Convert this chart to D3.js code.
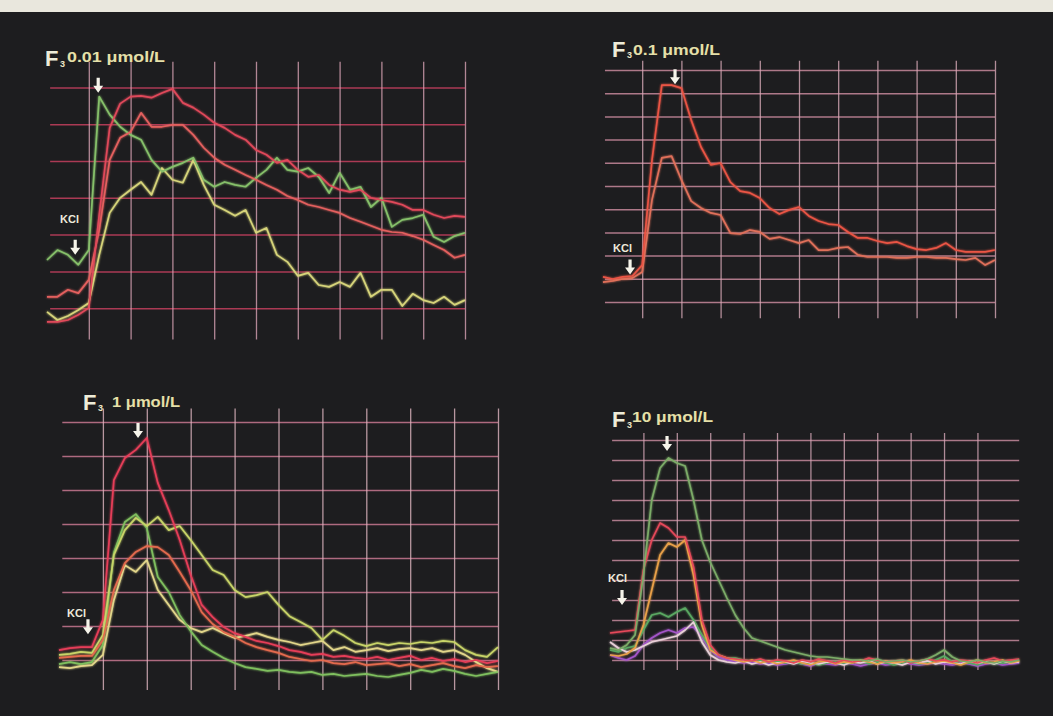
<!DOCTYPE html>
<html>
<head>
<meta charset="utf-8">
<script src="https://cdn.jsdelivr.net/npm/d3@7"></script>
<style>
  body { margin: 0; background: #1d1d1f; }
  svg { display: block; }
</style>
</head>
<body>
<svg id="chart" width="1053" height="716"></svg>
<script>
// Ca2+ fluorescence traces, 4 panels (F3 0.01 / 0.1 / 1 / 10 umol/L)
// x = sample index, y = relative fluorescence (10 units per grid division)

// panel 1 : F3 0.01 umol/L
var p1Green  = [23.1,25.8,24.5,21.8,25.8,67.5,62.6,59.3,57.1,55.8,50.3,47.1,48.4,49.5,50.9,44.9,43.0,44.3,43.5,43.0,45.4,47.6,50.9,47.6,47.1,48.1,45.7,41.3,46.8,42.2,43.0,37.5,40.0,32.1,34.0,34.5,35.4,29.4,28.0,29.6,30.5];
var p1Yellow = [9.0,6.8,7.9,9.5,11.4,24.5,35.9,40.0,42.2,44.3,40.8,48.1,44.9,44.1,50.3,43.5,38.1,36.7,35.1,36.7,30.5,31.8,24.5,22.6,18.8,19.6,16.3,15.8,17.1,15.8,19.6,13.1,15.0,15.0,10.6,13.9,12.2,11.4,13.1,10.9,12.2];
var p1RedA   = [6.3,6.3,6.8,8.2,10.1,35.4,59.0,65.6,67.5,67.7,67.2,68.5,69.6,65.8,64.5,62.6,60.4,59.0,57.1,55.8,53.0,51.7,49.5,50.3,47.6,45.7,46.2,43.5,42.2,41.6,42.2,40.0,39.4,38.9,38.1,36.7,36.7,35.4,34.5,35.1,34.8];
var p1RedB   = [13.1,13.1,15.0,14.1,17.7,31.3,50.3,56.3,57.9,63.1,59.3,59.3,59.8,59.8,57.1,53.6,50.9,49.0,47.6,46.2,44.9,43.5,42.2,40.5,39.4,38.1,37.5,36.7,35.9,34.5,33.5,32.4,31.3,30.7,30.5,29.6,28.6,27.2,25.8,23.7,24.5];

// panel 2 : F3 0.1 umol/L
var p2High = [20.8,19.9,20.8,21.2,25.9,71.2,103.5,103.5,102.2,88.4,76.8,69.1,69.9,61.7,57.8,57.0,54.8,50.5,47.9,49.7,50.9,47.1,44.9,43.6,43.2,40.2,37.6,37.6,36.3,35.4,35.9,34.1,32.8,32.4,33.3,35.4,32.4,31.6,31.6,31.6,32.4];
var p2Low  = [18.6,19.1,19.9,20.3,22.9,54.0,72.1,72.9,62.6,53.5,50.5,48.4,47.5,39.7,39.3,41.0,40.2,37.2,38.0,36.7,35.4,36.7,32.4,32.4,33.3,33.7,30.3,29.4,29.4,29.4,29.0,29.0,29.4,29.4,29.0,29.0,28.5,28.1,29.0,25.9,28.1];

// panel 3 : F3 1 umol/L
var p3RedTall = [12.9,13.5,13.8,13.8,21.8,62.9,69.4,71.8,75.3,62.1,54.1,45.3,35.0,26.2,22.6,19.7,17.9,16.8,15.6,15.0,14.1,12.9,12.4,11.5,11.8,10.9,11.2,10.6,10.3,10.9,10.0,10.6,11.2,10.0,10.6,9.7,10.3,9.4,10.0,9.1,9.7];
var p3RedLow  = [10.6,10.9,11.2,11.2,15.9,30.6,38.5,41.8,43.5,43.2,40.9,35.9,30.6,24.1,20.6,18.2,16.8,15.0,13.8,12.9,12.1,10.9,10.3,9.7,10.0,9.1,8.8,9.4,8.5,8.8,9.1,8.2,8.8,7.9,8.5,9.1,8.2,7.6,8.5,7.9,8.2];
var p3Green   = [8.8,9.4,8.8,9.4,14.4,41.5,50.6,52.9,48.8,34.4,30.0,23.2,18.5,14.4,12.4,10.6,9.1,7.9,7.4,6.8,7.1,6.5,6.2,6.5,5.6,5.9,5.3,5.6,5.9,5.3,5.0,5.6,6.2,7.1,6.5,7.4,6.8,5.9,5.3,5.9,6.5];
var p3Yellow  = [11.5,11.8,12.4,12.1,17.4,40.9,48.2,51.8,49.4,52.1,48.2,49.4,45.3,40.9,36.5,35.0,30.6,28.5,29.1,30.0,26.2,22.9,21.2,19.4,15.9,18.8,17.1,15.0,14.1,15.0,14.4,15.0,14.7,15.3,15.0,15.6,15.3,12.9,11.5,10.9,13.8];
var p3Pale    = [7.9,7.6,8.2,8.5,11.5,27.6,37.9,35.9,39.4,30.6,26.2,21.8,19.4,18.2,19.4,17.9,16.5,17.1,17.9,16.8,15.9,15.3,14.4,15.0,15.6,12.9,13.8,12.4,12.9,13.5,12.6,13.2,13.5,12.9,13.5,12.4,12.9,11.5,9.4,7.6,6.5];

// panel 4 : F3 10 umol/L
var p4GreenTall = [16,15,17.5,22.5,52.5,90,106,111,108.5,107,90,70,59,50,41,32.5,26,21,19.5,18,16.5,15,14,13,12,11.5,11.5,11,10.5,10,10,9.5,10.5,9,9.5,10,9,9.5,10.5,12.5,15,11.5,9.5,9,10,9,8.5,9.5,9,10];
var p4Red       = [23.5,24,24.5,25,55,70,78.5,76,71.5,71.5,56.5,30,17.5,12.5,11,10.5,10,9.5,10.5,9,10,9.5,8.5,10,9,10.5,9.5,8.5,10,9,9.5,11,10,9,9.5,10,8.5,9.5,10.5,9.5,10,9,10,9.5,8.5,10,11,9.5,10,10.5];
var p4Orange    = [12.5,12,13,16,27.5,45,62.5,68.5,66.5,70,52.5,27.5,15,12.5,11,10,9,10,8.5,9.5,8,9,10,8.5,7.5,9,9.5,8,9,8.5,10,9,8,9.5,8.5,9,10,8.5,8,9,9.5,8.5,7.5,9,10,8.5,9,10,8.5,9.5];
var p4GreenLow  = [15,14,16,17,25,32.5,33.5,31.5,34,36,30,22.5,16,12.5,11,11,10,9.5,10,9,9.5,8.5,9,8,8.5,7.5,8.5,9,8,8.5,9.5,8,9,8.5,7.5,8.5,9,8,8.5,10,12,9,8,8.5,7.5,9,8,8.5,9,9.5];
var p4Violet    = [12.5,11,10,12,17.5,21,23.5,25,23.5,26,26.5,21.5,15,11.5,10,9,8.5,9,8,8.5,7.5,8,9,8,7,8.5,8,7.5,8.5,8,7,8,8.5,7.5,8,9,8,7.5,8,8.5,8,7.5,8.5,8,7,8,8.5,7.5,8,8.5];
var p4Pale      = [19,16,14,15,17,19,20,21,22,25,29,19,12.5,10,9,8.5,9.5,8,9,7.5,8.5,9,8,9.5,8.5,8,9,8.5,7.5,9,8.5,9.5,8,9,8.5,7.5,9,8.5,9.5,8,9,8.5,8,9.5,8.5,9,8,9.5,8.5,9];

// concentration labels and marker positions (sample, value)
var doses = ["0.01 \u03bcmol/L", "0.1 \u03bcmol/L", "1 \u03bcmol/L", "10 \u03bcmol/L"];
var kclMarks  = [[2.7, 24], [2.76, 21], [2.64, 17], [1.44, 36.5]];
var peakMarks = [[4.9, 68], [7.35, 103], [7.2, 74.7], [6.83, 113.5]];

var svg = d3.select("#chart");

var defs = svg.append("defs");
var glow = defs.append("filter").attr("id", "glow")
    .attr("x", "-5%").attr("y", "-5%").attr("width", "110%").attr("height", "110%");
glow.append("feGaussianBlur").attr("stdDeviation", 1).attr("result", "b");
var merge = glow.append("feMerge");
merge.append("feMergeNode").attr("in", "b");
merge.append("feMergeNode").attr("in", "SourceGraphic");

svg.append("rect").attr("width", 1053).attr("height", 716).attr("fill", "#1d1d1f");
svg.append("rect").attr("width", 1053).attr("height", 12).attr("fill", "#e9e7dd");

var panels = [
    {
        n: 40, xr: [47, 465], ymax: 80, yr: [345, 50.6],
        hTicks: d3.range(10, 71, 10), vTicks: d3.range(4, 41, 4),
        hx: [0.3, 40], vy: [1.5, 77],
        hColor: "#c4405e", vColor: "#d8a2b4",
        label: { x: 45, y: 66, dx: 22, dy: -4, len: 98 }, kcl: [60, 223],
        series: [
            { v: p1Yellow, c: "#d6d47a" },
            { v: p1Green,  c: "#86c06a" },
            { v: p1RedB,   c: "#e4605e" },
            { v: p1RedA,   c: "#e0485a" }
        ]
    },
    {
        n: 40, xr: [603, 995], ymax: 120, yr: [325.2, 46.8],
        hTicks: d3.range(10, 111, 10), vTicks: d3.range(4, 41, 4),
        hx: [0.2, 40], vy: [3, 114],
        hColor: "#c88a9c", vColor: "#d8aab8",
        label: { x: 612, y: 57, dx: 21, dy: -2, len: 87 }, kcl: [613, 252],
        series: [
            { v: p2Low,  c: "#e0705a" },
            { v: p2High, c: "#ea5444" }
        ]
    },
    {
        n: 40, xr: [59, 498], ymax: 90, yr: [694, 388],
        hTicks: d3.range(10, 81, 10), vTicks: d3.range(4, 41, 4),
        hx: [0.3, 40], vy: [1.2, 84],
        hColor: "#c87890", vColor: "#e0b6c0",
        label: { x: 83, y: 410, dx: 29, dy: -3, len: 68 }, kcl: [67, 617],
        series: [
            { v: p3Pale,    c: "#e2d68a" },
            { v: p3Green,   c: "#7fbf5e" },
            { v: p3Yellow,  c: "#c8d468" },
            { v: p3RedLow,  c: "#e46a4e" },
            { v: p3RedTall, c: "#e63e58" }
        ]
    },
    {
        n: 49, xr: [610, 1019.2], ymax: 130, yr: [680, 420],
        hTicks: d3.range(10, 121, 10), vTicks: d3.range(4, 45, 4),
        hx: [0.25, 49], vy: [5, 123.5],
        hColor: "#c48a9c", vColor: "#d4a8b6",
        label: { x: 612, y: 427, dx: 20, dy: -5, len: 81 }, kcl: [608, 582],
        series: [
            { v: p4Violet,    c: "#a455c8" },
            { v: p4GreenLow,  c: "#5aa862" },
            { v: p4Pale,      c: "#e8d0d8" },
            { v: p4Orange,    c: "#e8a048" },
            { v: p4Red,       c: "#e6485a" },
            { v: p4GreenTall, c: "#7cac68" }
        ]
    }
];

var arrowPath = "M0,0 L-5,-7 L-1.6,-7 L-1.6,-15 L1.6,-15 L1.6,-7 L5,-7 Z";

panels.forEach(function (p, i) {
    var x = d3.scaleLinear().domain([0, p.n]).range(p.xr);
    var y = d3.scaleLinear().domain([0, p.ymax]).range(p.yr);
    var g = svg.append("g").attr("class", "panel");

    // horizontal grid
    var hg = g.append("g")
        .attr("transform", "translate(" + x(p.hx[0]) + ",0)")
        .call(d3.axisRight(y).tickValues(p.hTicks)
            .tickSize(x(p.hx[1]) - x(p.hx[0])).tickFormat(""));
    hg.select(".domain").remove();
    hg.selectAll("line").attr("stroke", p.hColor).attr("stroke-width", 1.5).attr("opacity", 0.85);

    // vertical grid
    var vg = g.append("g")
        .attr("transform", "translate(0," + y(p.vy[0]) + ")")
        .call(d3.axisTop(x).tickValues(p.vTicks)
            .tickSize(y(p.vy[0]) - y(p.vy[1])).tickFormat(""));
    vg.select(".domain").remove();
    vg.selectAll("line").attr("stroke", p.vColor).attr("stroke-width", 1.3).attr("opacity", 0.8);

    // traces
    var line = d3.line()
        .x(function (d, k) { return x(k); })
        .y(function (d) { return y(d); });

    g.append("g").attr("filter", "url(#glow)")
        .selectAll("path")
        .data(p.series)
        .enter().append("path")
        .attr("d", function (s) { return line(s.v); })
        .attr("fill", "none")
        .attr("stroke", function (s) { return s.c; })
        .attr("stroke-width", 1.7)
        .attr("stroke-linejoin", "round");

    // title: F3 + dose
    var t = g.append("g").attr("fill", "#ece8c8")
        .style("font-family", "'Liberation Sans', Arial, sans-serif")
        .style("font-weight", "bold");
    t.append("text").attr("x", p.label.x).attr("y", p.label.y)
        .style("font-size", "22px").attr("fill", "#eeecd8").text("F");
    t.append("text").attr("x", p.label.x + 15).attr("y", p.label.y + 1)
        .style("font-size", "9px").text("3");
    t.append("text").attr("x", p.label.x + p.label.dx).attr("y", p.label.y + p.label.dy)
        .style("font-size", "14px").attr("fill", "#e6e0a8")
        .attr("textLength", p.label.len).attr("lengthAdjust", "spacingAndGlyphs")
        .text(doses[i]);

    // KCl label + arrows
    g.append("text").attr("x", p.kcl[0]).attr("y", p.kcl[1])
        .style("font-family", "'Liberation Sans', Arial, sans-serif")
        .style("font-weight", "bold").style("font-size", "11px")
        .attr("fill", "#eeeadc").text("KCl");

    [kclMarks[i], peakMarks[i]].forEach(function (m) {
        g.append("path")
            .attr("d", arrowPath)
            .attr("transform", "translate(" + x(m[0]) + "," + (y(m[1]) - 2) + ")")
            .attr("fill", "#f6f4ea");
    });
});
</script>
</body>
</html>
